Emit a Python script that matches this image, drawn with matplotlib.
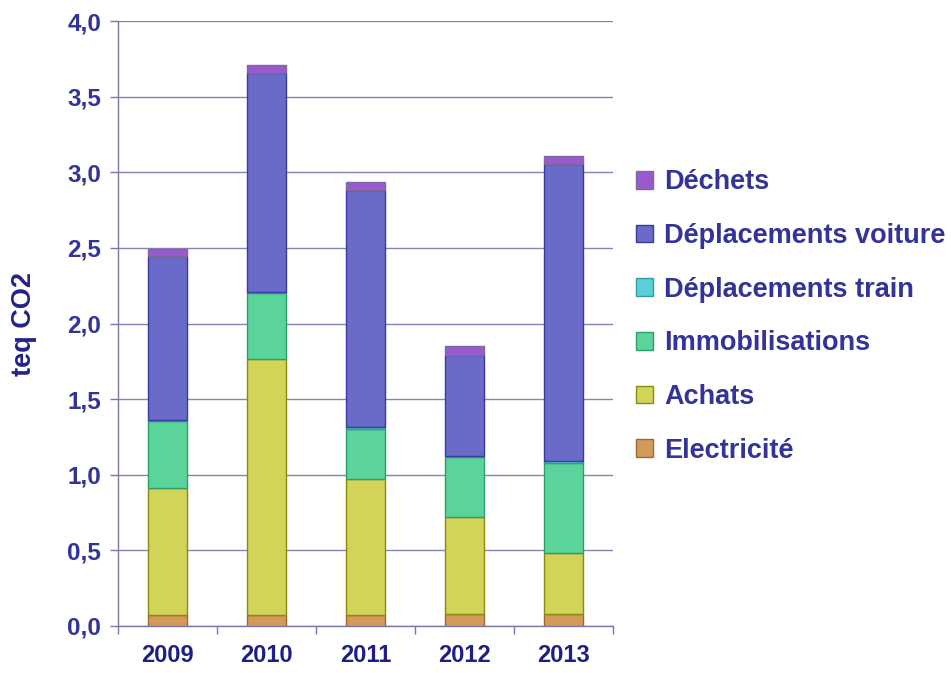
import matplotlib
matplotlib.use("Agg")
import matplotlib.pyplot as plt
import numpy as np

years = ["2009", "2010", "2011", "2012", "2013"]
electricite = [0.07, 0.07, 0.07, 0.08, 0.08]
achats = [0.84, 1.695, 0.905, 0.64, 0.40]
immobilisations = [0.445, 0.435, 0.33, 0.40, 0.595]
dep_train = [0.01, 0.005, 0.01, 0.005, 0.015]
dep_voiture = [1.08, 1.45, 1.565, 0.67, 1.965]
dechets = [0.05, 0.055, 0.053, 0.058, 0.053]

series = [
    ("Electricité", electricite, "#D49A5A", "#9C6A30"),
    ("Achats", achats, "#D2D45A", "#8A8A10"),
    ("Immobilisations", immobilisations, "#5AD49A", "#2E9E68"),
    ("Déplacements train", dep_train, "#5BCFD6", "#2E9EA0"),
    ("Déplacements voiture", dep_voiture, "#6A6AC8", "#3A3AA0"),
    ("Déchets", dechets, "#9B59D0", "#7A6A9A"),
]

plt.rcParams['font.family'] = ['Liberation Sans', 'DejaVu Sans']
plt.rcParams['font.weight'] = 'bold'

fig = plt.figure(figsize=(9.51, 6.73), dpi=100)
ax = fig.add_axes([118/951, 1-626/673, (613-118)/951, (626-21)/673])

x = np.arange(len(years))
bottom = np.zeros(len(years))
handles = []
for name, vals, fc, ec in series:
    b = ax.bar(x, vals, width=0.4, bottom=bottom, color=fc, edgecolor=ec,
               linewidth=1.0, label=name, zorder=3)
    handles.append(b)
    bottom += np.array(vals)

ax.set_xlim(-0.5, 4.5)
ax.set_ylim(0, 4.0)
yt = np.arange(0, 4.01, 0.5)
ax.set_yticks(yt)
ax.set_yticklabels([f"{v:.1f}".replace(".", ",") for v in yt],
                   fontsize=17.5, fontweight='bold', color="#333399")
ax.set_xticks(x)
ax.set_xticklabels(years, fontsize=17, fontweight='bold', color="#1E1E85")
ax.set_xticks(np.arange(-0.5, 4.6, 1.0), minor=True)
ax.tick_params(axis='x', which='major', length=0, pad=13)
ax.tick_params(axis='x', which='minor', length=6, color="#7777AA", width=1)
ax.tick_params(axis='y', length=6, color="#7777AA", width=1, pad=6)

ax.grid(axis='y', color="#8585B5", linewidth=1, zorder=0)
for s in ["top", "right"]:
    ax.spines[s].set_visible(False)
for s in ["left", "bottom"]:
    ax.spines[s].set_color("#7777AA")
    ax.spines[s].set_linewidth(1)

ax.set_ylabel("teq CO2", fontsize=19.5, fontweight='bold', color="#22228A", labelpad=22)

leg = fig.legend(handles[::-1], [s[0] for s in series][::-1],
                 loc='center left', bbox_to_anchor=(636/951, 1-316.5/673),
                 frameon=False, fontsize=19.5, handlelength=0.62, handleheight=0.62,
                 handletextpad=0.42, labelspacing=1.02, borderpad=0, borderaxespad=0)
for t in leg.get_texts():
    t.set_color("#333399")
    t.set_fontweight('bold')

fig.savefig("out.png", dpi=100)
